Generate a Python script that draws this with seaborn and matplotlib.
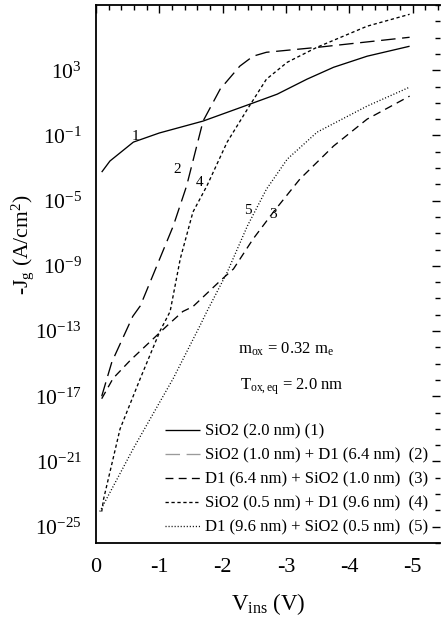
import numpy as np
import pandas as pd
import matplotlib
matplotlib.use("Agg")
import matplotlib.pyplot as plt
from matplotlib.lines import Line2D
from matplotlib.ticker import FixedLocator, MultipleLocator, LogFormatterSciNotation, NullFormatter
import seaborn as sns

sns.set_theme(style="white")
plt.rcParams['font.family'] = ['Liberation Serif', 'DejaVu Serif']
plt.rcParams['mathtext.fontset'] = 'custom'
plt.rcParams['mathtext.rm'] = 'Liberation Serif'
plt.rcParams['mathtext.it'] = 'Liberation Serif:italic'

# ---- data (V_ins in V, log10 of -J_g in A/cm^2) ----
v1 = [-0.09, -0.22, -0.59, -1.0, -1.69, -2.43, -2.86, -3.33, -3.75, -4.28, -4.95]
l1 = [-3.25, -2.57, -1.41, -0.85, -0.12, 0.92, 1.53, 2.45, 3.18, 3.86, 4.47]

v2 = [-0.09, -0.25, -0.58, -0.70, -1.22, -1.43, -1.69, -1.96, -2.27, -2.48, -2.69, -3.49, -4.95]
l2 = [-17.0, -14.9, -12.1, -11.45, -6.55, -4.1, -0.12, 1.84, 3.25, 3.86, 4.1, 4.4, 5.02]

v3 = [-0.09, -0.27, -0.54, -1.12, -1.37, -1.53, -1.96, -2.17, -2.48, -2.80, -3.22, -3.75, -4.28, -4.95]
l3 = [-17.15, -15.9, -14.8, -12.68, -11.8, -11.5, -9.92, -9.19, -7.35, -5.7, -3.67, -1.65, 0.0, 1.41]

v4 = [-0.09, -0.12, -0.38, -0.70, -1.01, -1.17, -1.33, -1.53, -1.75, -2.07, -2.39, -2.69, -3.02, -3.49, -4.28, -4.95]
l4 = [-24.07, -23.3, -19.0, -15.9, -13.0, -11.8, -8.57, -5.7, -4.1, -1.41, 0.61, 2.45, 3.49, 4.41, 5.7, 6.43]

v5 = [-0.06, -0.59, -1.22, -1.64, -1.75, -2.07, -2.39, -2.69, -3.02, -3.49, -4.28, -4.95]
l5 = [-24.07, -20.2, -15.9, -12.68, -11.8, -9.4, -6.55, -4.3, -2.45, -0.8, 0.8, 1.96]

labels = ["SiO2 (2.0 nm) (1)",
          "SiO2 (1.0 nm) + D1 (6.4 nm)  (2)",
          "D1 (6.4 nm) + SiO2 (1.0 nm)  (3)",
          "SiO2 (0.5 nm) + D1 (9.6 nm)  (4)",
          "D1 (9.6 nm) + SiO2 (0.5 nm)  (5)"]
curve_ids = ["1", "2", "3", "4", "5"]
label_x = [-0.62, -1.28, -2.80, -1.64, -2.39]
label_logy = [-1.04, -3.06, -5.82, -3.86, -5.63]

yticks_major = [-25, -21, -17, -13, -9, -5, -1, 3]

# ---- styles ----
styles = [(0, ()), (0, (11, 5)), (0, (6, 4)), (0, (2.5, 2)), (0, (0.8, 1.5))]
lw = 0.95

fig = plt.figure(figsize=(4.41, 6.22), dpi=100)
ax = fig.add_axes([96/441, 1-543/622, (440-96)/441, (543-5)/622])

series = [(v1, l1), (v2, l2), (v3, l3), (v4, l4), (v5, l5)]
for (v, l), ls in zip(series, styles):
    df = pd.DataFrame({"V": v, "J": np.power(10.0, l)})
    sns.lineplot(data=df, x="V", y="J", ax=ax, color="black", linewidth=lw,
                 linestyle=ls, sort=False, legend=False)

ax.set_yscale("log")
ax.set_xlim(0, -5.43)
ax.set_ylim(1e-26, 1e7)

ax.yaxis.set_major_locator(FixedLocator([10.0**e for e in yticks_major]))
ax.yaxis.set_major_formatter(LogFormatterSciNotation())
ax.yaxis.set_minor_locator(FixedLocator([10.0**e for e in range(-26, 8)]))
ax.yaxis.set_minor_formatter(NullFormatter())
ax.xaxis.set_major_locator(MultipleLocator(1))
ax.xaxis.set_minor_locator(MultipleLocator(0.2))
ax.set_xticks([0, -1, -2, -3, -4, -5])
ax.set_xticklabels(["0", "-1", "-2", "-3", "-4", "-5"])

ax.tick_params(axis="both", which="both", direction="in", top=True, right=True,
               color="black", labelcolor="black")
ax.tick_params(which="major", length=6, width=1.0)
ax.tick_params(which="minor", length=3.5, width=1.0)
ax.tick_params(axis="x", pad=11, labelsize=16)
ax.tick_params(axis="y", pad=10, labelsize=15.5)

for s in ["left", "bottom", "top"]:
    ax.spines[s].set_color("black")
    ax.spines[s].set_linewidth(1.3)
ax.spines["right"].set_visible(False)

ax.set_xlabel(r"V$_{\rm ins}$ (V)", fontsize=16.5, color="black", labelpad=10)
ax.set_ylabel(r"-J$_{\rm g}$ (A/cm$^2$)", fontsize=15.5, color="black")
ax.yaxis.set_label_coords(-0.175, 0.555)

for cid, x, ly in zip(curve_ids, label_x, label_logy):
    ax.text(x, 10.0**ly, cid, fontsize=11, ha="center", va="center", color="black")

ax.text(0.412, 0.36, r"m$_{\rm ox}$ = 0.32 m$_{\rm e}$", transform=ax.transAxes,
        fontsize=12, ha="left", va="center", color="black")
ax.text(0.42, 0.29, r"T$_{\rm ox,eq}$ = 2.0 nm", transform=ax.transAxes,
        fontsize=12, ha="left", va="center", color="black")

handle_colors = ["black", "#9a9a9a", "black", "black", "black"]
handles = [Line2D([0], [0], color=c, linewidth=lw, linestyle=ls)
           for c, ls in zip(handle_colors, styles)]
leg = ax.legend(handles, labels, loc="upper left", bbox_to_anchor=(0.2, 0.222),
                frameon=False, fontsize=12, handlelength=2.1, handletextpad=0.3,
                labelspacing=0.48, borderpad=0, borderaxespad=0)
for t in leg.get_texts():
    t.set_color("black")

fig.savefig("out.png", dpi=100)
